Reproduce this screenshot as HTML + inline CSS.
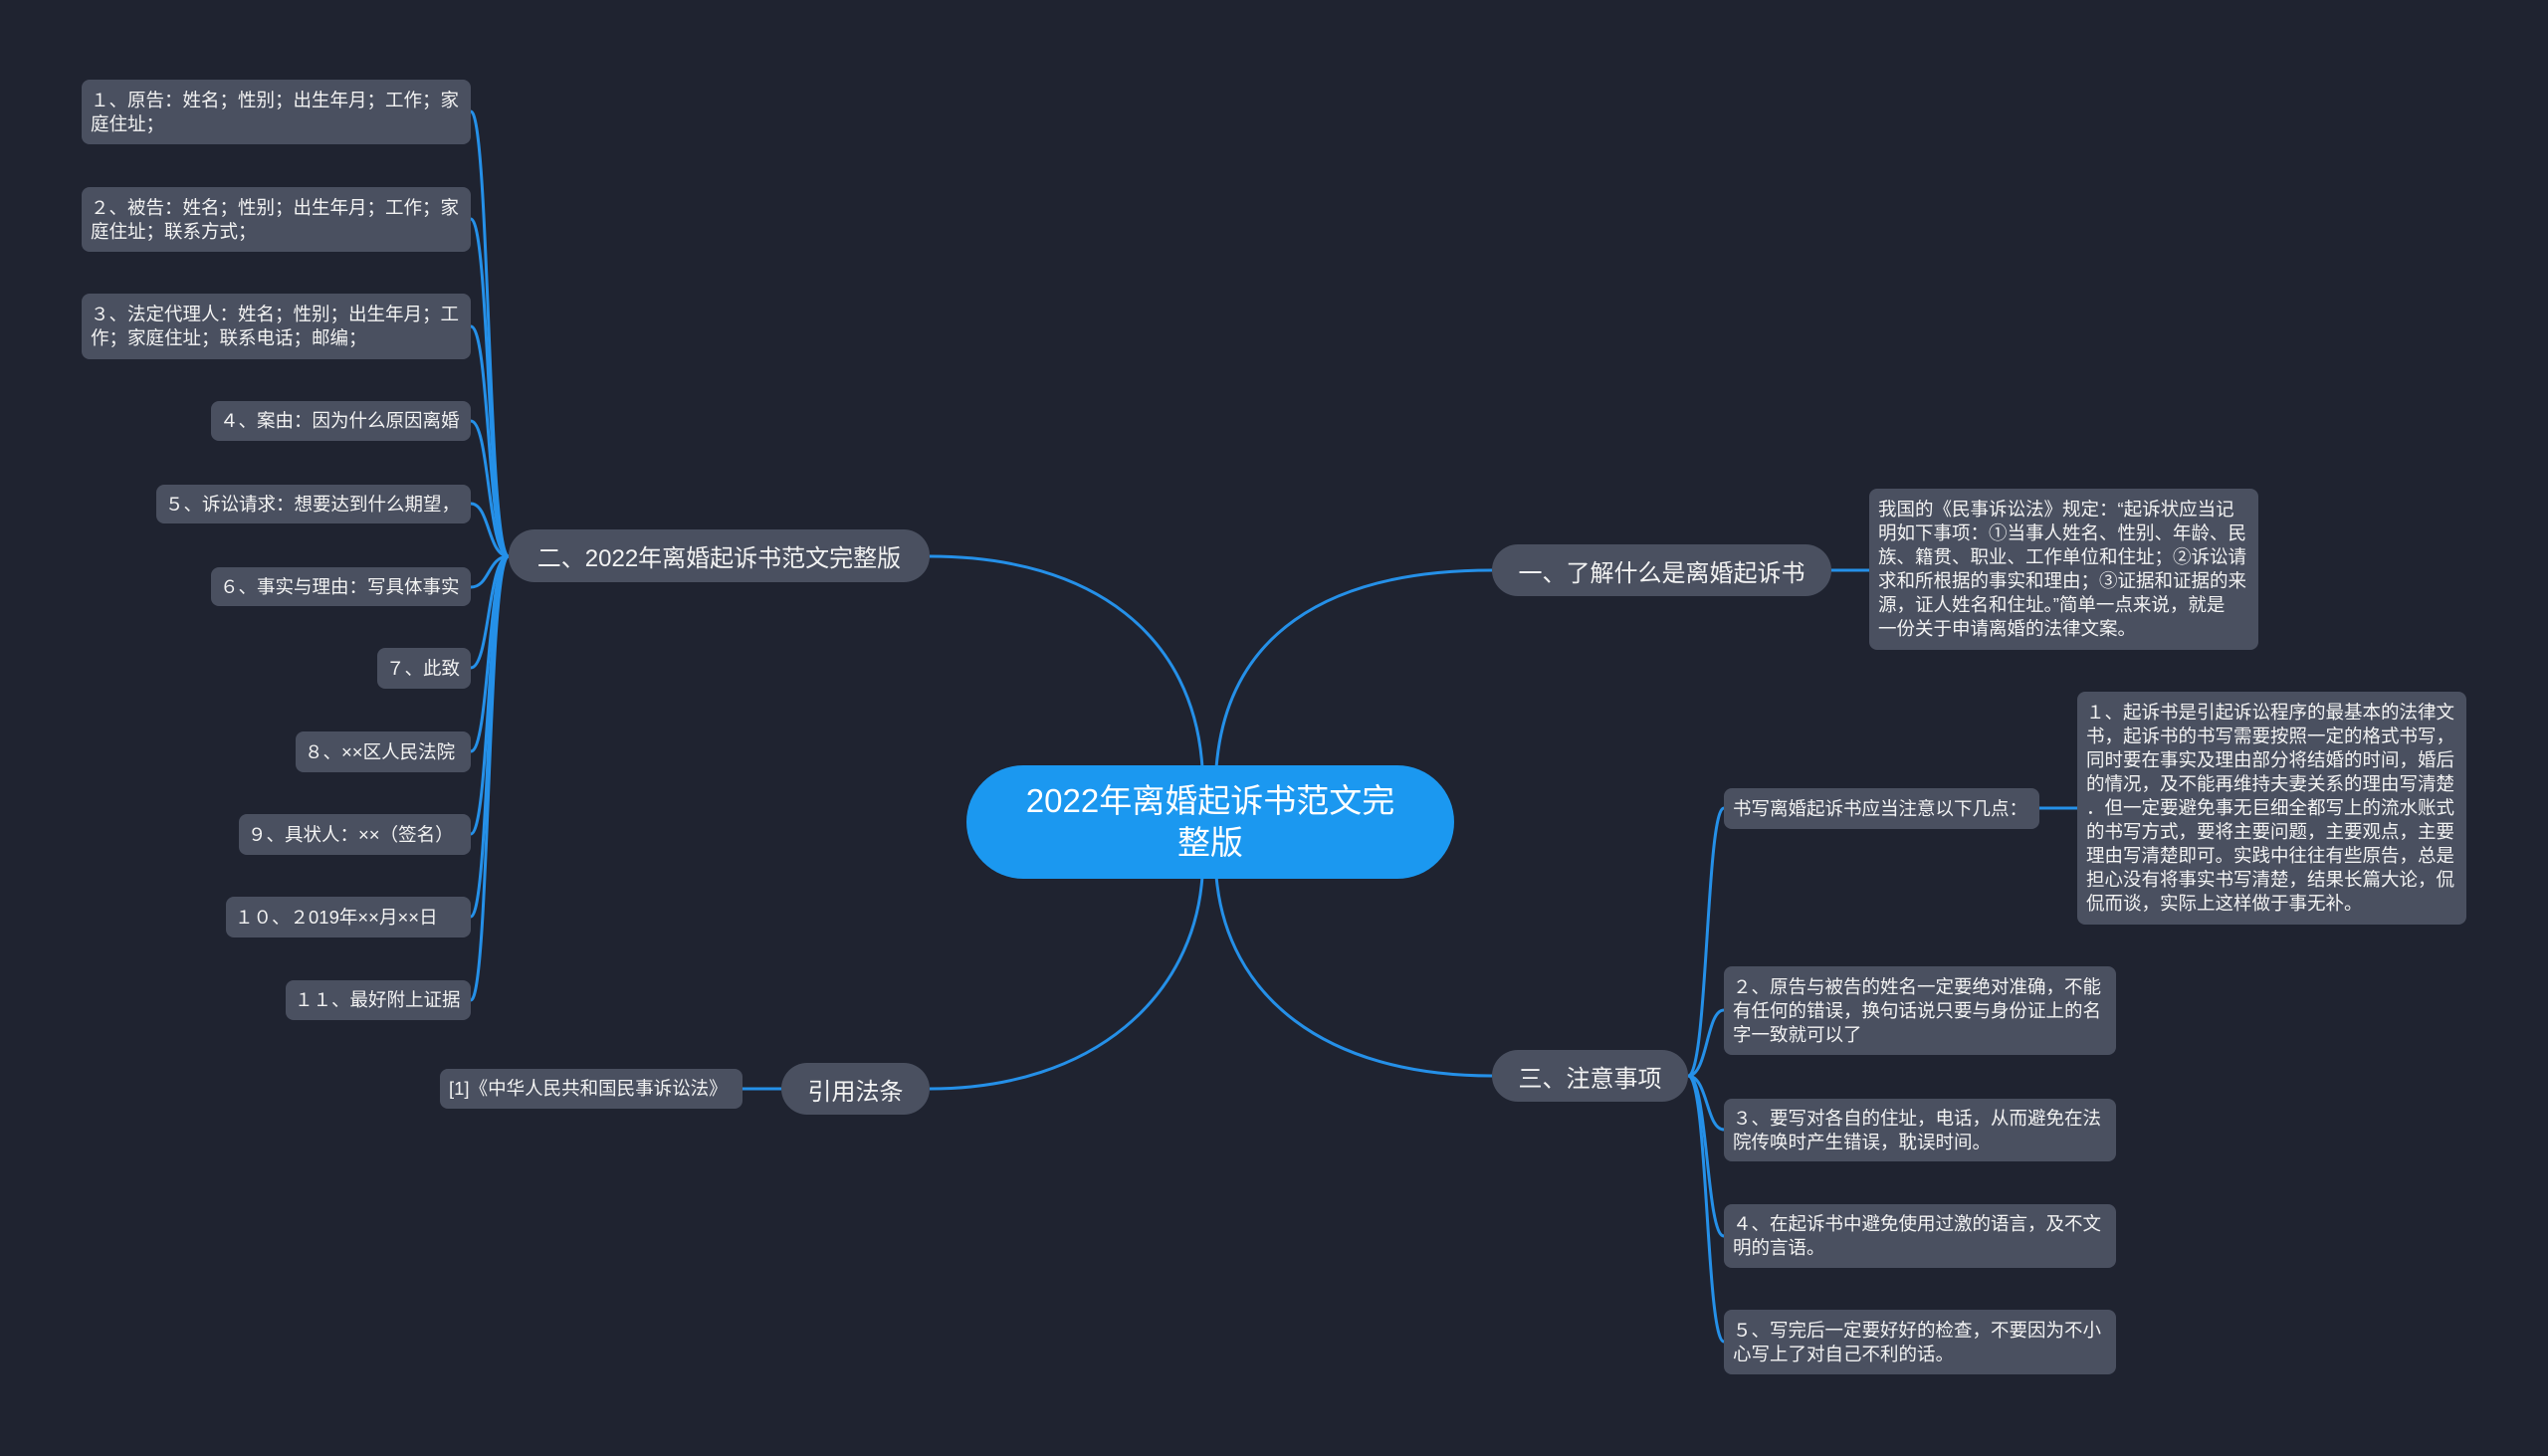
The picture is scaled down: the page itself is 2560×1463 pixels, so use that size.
<!DOCTYPE html>
<html><head><meta charset="utf-8"><style>
html,body{margin:0;padding:0;}
body{width:2560px;height:1463px;background:#1f2330;position:relative;overflow:hidden;font-family:"Liberation Sans","Noto Sans CJK SC",sans-serif;color:#fff;}
.n{position:absolute;background:#4a5060;border-radius:8px;font-size:18.5px;line-height:24px;display:flex;align-items:center;padding:0 9px;box-sizing:border-box;white-space:nowrap;color:#f2f2f2;overflow:hidden;}
.b{position:absolute;background:#4a5060;border-radius:26px;font-size:24px;display:flex;align-items:center;justify-content:center;box-sizing:border-box;white-space:nowrap;color:#f2f2f2;}
svg{position:absolute;left:0;top:0;}
</style></head><body>
<svg width="2560" height="1463" fill="none" stroke="#2590e8" stroke-width="3">
<path d="M1208 772 C1200 640 1100 559 934 559"/>
<path d="M1222 772 C1232 640 1330 573 1499 573"/>
<path d="M1208 880 C1200 1000 1100 1094 934 1094"/>
<path d="M1222 880 C1232 1000 1330 1081 1499 1081"/>
<path d="M1840 573 L1878 573"/>
<path d="M785 1094 L746 1094"/>
<path d="M2049 812 L2087 812"/>
<g>
<path d="M511 559 C490 559 492 112 473 112"/>
<path d="M511 559 C490 559 492 220 473 220"/>
<path d="M511 559 C490 559 492 328 473 328"/>
<path d="M511 559 C490 559 492 423 473 423"/>
<path d="M511 559 C490 559 492 506 473 506"/>
<path d="M511 559 C490 559 492 590 473 590"/>
<path d="M511 559 C490 559 492 671 473 671"/>
<path d="M511 559 C490 559 492 755 473 755"/>
<path d="M511 559 C490 559 492 838 473 838"/>
<path d="M511 559 C490 559 492 921 473 921"/>
<path d="M511 559 C490 559 492 1005 473 1005"/>
</g>
<g>
<path d="M1696 1081 C1716 1081 1714 812 1732 812"/>
<path d="M1696 1081 C1716 1081 1714 1015 1732 1015"/>
<path d="M1696 1081 C1716 1081 1714 1135 1732 1135"/>
<path d="M1696 1081 C1716 1081 1714 1242 1732 1242"/>
<path d="M1696 1081 C1716 1081 1714 1348 1732 1348"/>
</g>
</svg>

<div style="position:absolute;left:971px;top:769px;width:490px;height:114px;background:#1b98f0;border-radius:57px;display:flex;align-items:center;justify-content:center;text-align:center;font-size:33px;line-height:42px;color:#fff;">2022年离婚起诉书范文完<br>整版</div>

<div class="b" style="left:1499px;top:547px;width:341px;height:52px;">一、了解什么是离婚起诉书</div>
<div class="b" style="left:511px;top:532px;width:423px;height:53px;">二、2022年离婚起诉书范文完整版</div>
<div class="b" style="left:785px;top:1068px;width:149px;height:52px;">引用法条</div>
<div class="b" style="left:1499px;top:1055px;width:197px;height:52px;">三、注意事项</div>

<div class="n" style="left:1878px;top:491px;width:391px;height:162px;">我国的《民事诉讼法》规定：“起诉状应当记<br>明如下事项：①当事人姓名、性别、年龄、民<br>族、籍贯、职业、工作单位和住址；②诉讼请<br>求和所根据的事实和理由；③证据和证据的来<br>源，证人姓名和住址。”简单一点来说，就是<br>一份关于申请离婚的法律文案。</div>

<div class="n" style="left:82px;top:80px;width:391px;height:65px;">１、原告：姓名；性别；出生年月；工作；家<br>庭住址；</div>
<div class="n" style="left:82px;top:188px;width:391px;height:65px;">２、被告：姓名；性别；出生年月；工作；家<br>庭住址；联系方式；</div>
<div class="n" style="left:82px;top:295px;width:391px;height:66px;">３、法定代理人：姓名；性别；出生年月；工<br>作；家庭住址；联系电话；邮编；</div>
<div class="n" style="left:212px;top:403px;width:261px;height:40px;">４、案由：因为什么原因离婚</div>
<div class="n" style="left:157px;top:487px;width:316px;height:39px;">５、诉讼请求：想要达到什么期望，</div>
<div class="n" style="left:212px;top:570px;width:261px;height:39px;">６、事实与理由：写具体事实</div>
<div class="n" style="left:379px;top:651px;width:94px;height:41px;">７、此致</div>
<div class="n" style="left:297px;top:735px;width:176px;height:41px;">８、××区人民法院</div>
<div class="n" style="left:240px;top:818px;width:233px;height:41px;">９、具状人：××（签名）</div>
<div class="n" style="left:227px;top:901px;width:246px;height:41px;">１０、２019年××月××日</div>
<div class="n" style="left:287px;top:985px;width:186px;height:40px;">１１、最好附上证据</div>

<div class="n" style="left:442px;top:1074px;width:304px;height:40px;">[1]《中华人民共和国民事诉讼法》</div>

<div class="n" style="left:1732px;top:792px;width:317px;height:41px;">书写离婚起诉书应当注意以下几点：</div>
<div class="n" style="left:2087px;top:695px;width:391px;height:234px;">１、起诉书是引起诉讼程序的最基本的法律文<br>书，起诉书的书写需要按照一定的格式书写，<br>同时要在事实及理由部分将结婚的时间，婚后<br>的情况，及不能再维持夫妻关系的理由写清楚<br>．但一定要避免事无巨细全都写上的流水账式<br>的书写方式，要将主要问题，主要观点，主要<br>理由写清楚即可。实践中往往有些原告，总是<br>担心没有将事实书写清楚，结果长篇大论，侃<br>侃而谈，实际上这样做于事无补。</div>
<div class="n" style="left:1732px;top:971px;width:394px;height:89px;">２、原告与被告的姓名一定要绝对准确，不能<br>有任何的错误，换句话说只要与身份证上的名<br>字一致就可以了</div>
<div class="n" style="left:1732px;top:1104px;width:394px;height:63px;">３、要写对各自的住址，电话，从而避免在法<br>院传唤时产生错误，耽误时间。</div>
<div class="n" style="left:1732px;top:1210px;width:394px;height:64px;">４、在起诉书中避免使用过激的语言，及不文<br>明的言语。</div>
<div class="n" style="left:1732px;top:1316px;width:394px;height:65px;">５、写完后一定要好好的检查，不要因为不小<br>心写上了对自己不利的话。</div>
</body></html>
